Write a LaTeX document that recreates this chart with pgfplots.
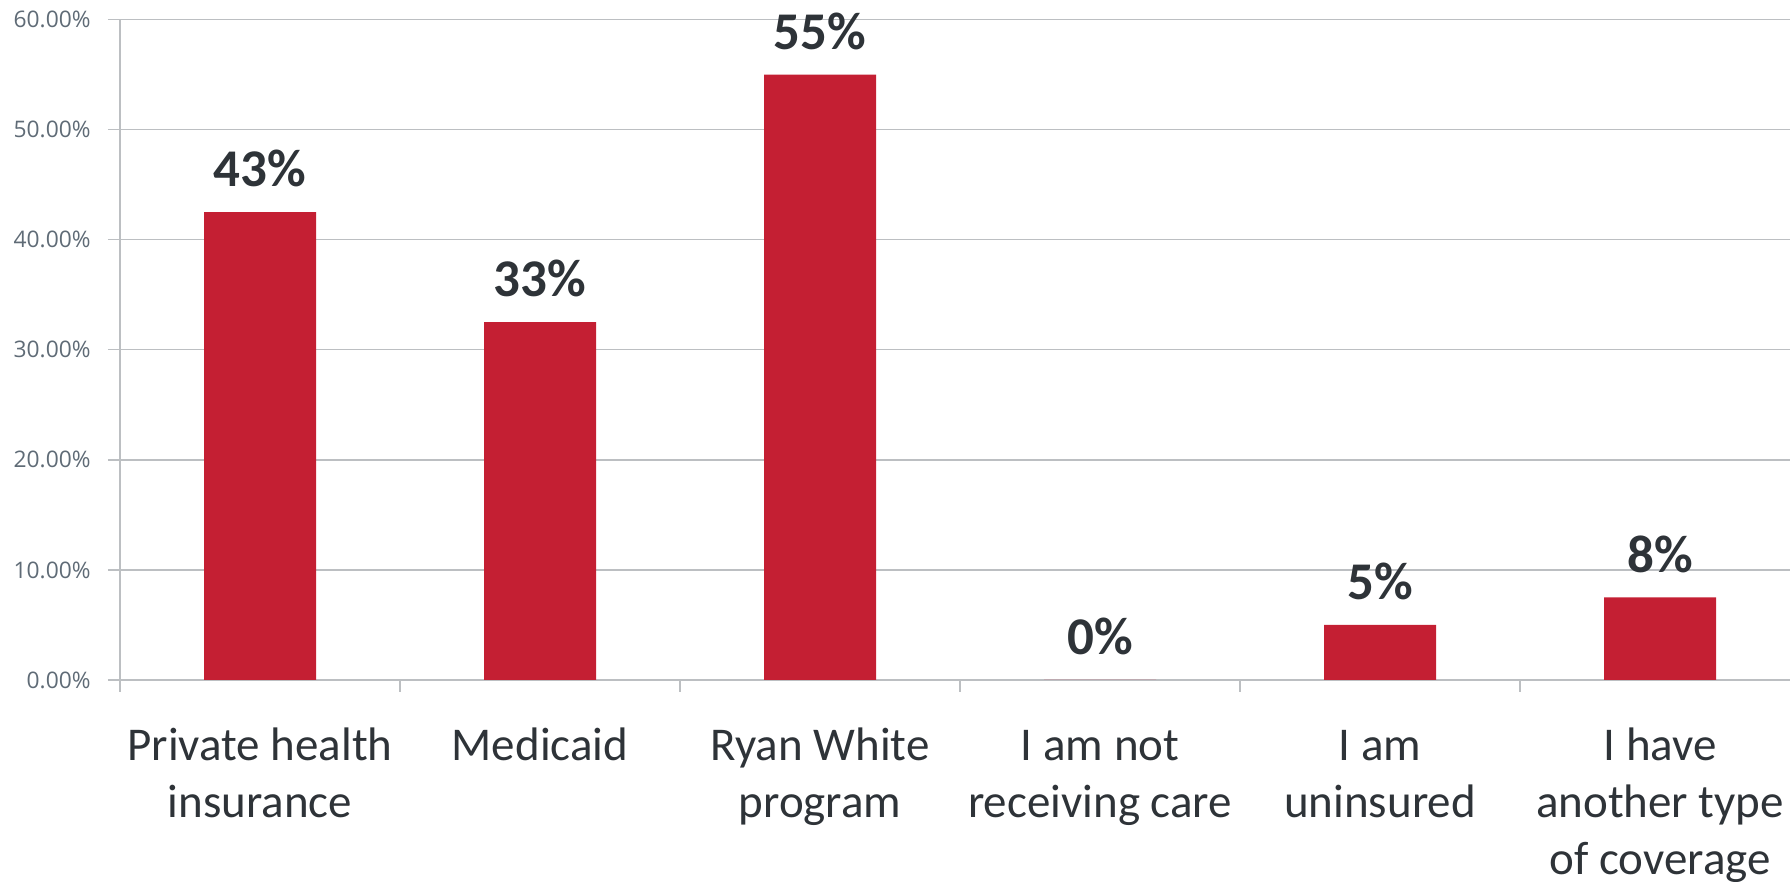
\documentclass[border=0pt]{standalone}
\usepackage{fontspec}
\setmainfont{Carlito}
\newfontfamily\tickfont{Open Sans}
\usepackage{pgfplots}
\pgfplotsset{compat=1.18}
\usepackage{pgfplotstable}
\definecolor{barred}{HTML}{C41F33}
\definecolor{gridgray}{HTML}{BCBFC2}
\definecolor{labtext}{HTML}{2E3338}
\definecolor{ticktext}{HTML}{5F6B76}
\pgfplotstableread{
x y lab
0 42.5 43\%
1 32.5 33\%
2 55.0 55\%
3 0.0 0\%
4 5.0 5\%
5 7.5 8\%
}\datatab
\begin{document}
\begin{tikzpicture}
\begin{axis}[
  at={(0,0)}, anchor=south west,
  scale only axis,
  width=835pt, height=330.25pt,
  xmin=-0.5, xmax=5.464,
  ymin=0, ymax=60,
  axis lines=left,
  axis line style={-, draw=gridgray, line width=0.7pt},
  ytick={0,10,20,30,40,50,60},
  yticklabels={0.00\%,10.00\%,20.00\%,30.00\%,40.00\%,50.00\%,60.00\%},
  yticklabel style={font=\tickfont\fontsize{11.4}{13}\selectfont, text=ticktext, inner sep=0pt, xshift=-8.5pt},
  ymajorgrids,
  grid style={draw=gridgray, line width=0.7pt},
  tick align=outside,
  tick style={draw=gridgray, line width=0.7pt},
  major tick length=6pt,
  xtick={-0.5,0.5,1.5,2.5,3.5,4.5},
  xticklabels={},
  extra x ticks={0,1,2,3,4,5},
  extra x tick labels={{\rule{0pt}{17pt}Private health\\insurance},{\rule{0pt}{17pt}Medicaid},{\rule{0pt}{17pt}Ryan White\\program},{\rule{0pt}{17pt}I am not\\receiving care},{\rule{0pt}{17pt}I am\\uninsured},{\rule{0pt}{17pt}I have\\another type\\of coverage}},
  extra x tick style={grid=none, major tick length=0pt, tick style={draw=none},
    xticklabel style={font=\fontsize{23.5}{28.5}\selectfont, text=labtext, align=center, anchor=north, inner sep=0pt, yshift=-23.2pt}},
  clip=false,
]
\addplot[ybar, bar width=56pt, fill=barred, draw=none,
  point meta=explicit symbolic,
  nodes near coords,
  every node near coord/.append style={font=\bfseries\fontsize{26.5}{30}\selectfont, text=labtext, anchor=south, inner sep=0pt, text depth=0pt, yshift=12.5pt}]
  table[x=x, y=y, meta=lab] {\datatab};
\end{axis}
\pgfresetboundingbox
\path[use as bounding box] (-60pt,-101pt) rectangle (835pt,340pt);
\end{tikzpicture}
\end{document}
